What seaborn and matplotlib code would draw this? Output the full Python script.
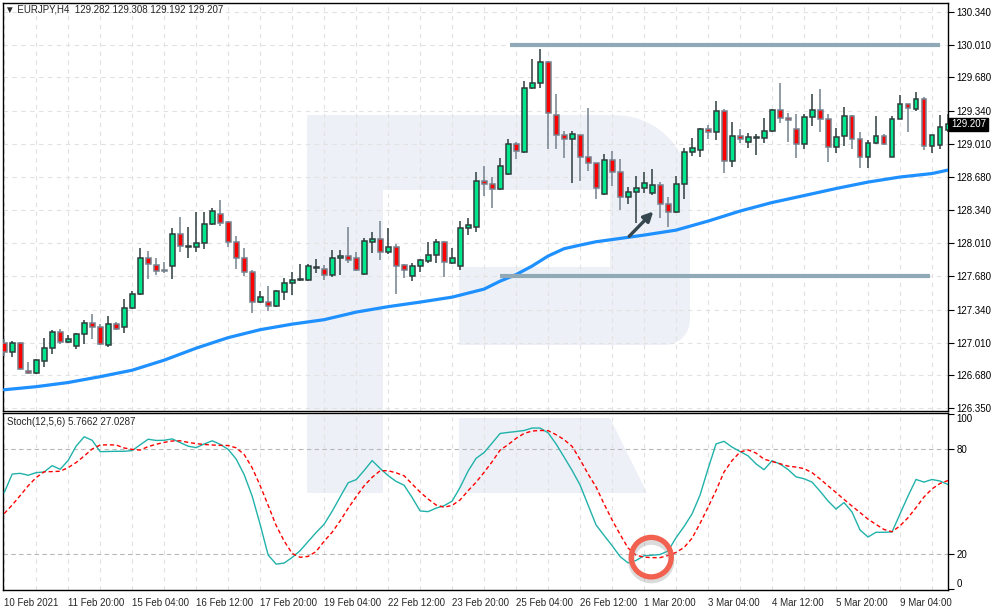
import numpy as np
import pandas as pd
import matplotlib
matplotlib.use("Agg")
import matplotlib.pyplot as plt
import matplotlib.patches as mpatches
import seaborn as sns

# EURJPY H4 bars (bar 0 = 10 Feb 2021)
opens = [127.00, 126.91, 127.01, 126.72, 126.70, 126.82, 126.95, 127.12, 127.02, 126.97,
         127.10, 127.21, 127.17, 126.98, 127.20, 127.17, 127.36, 127.50, 127.86, 127.79,
         127.74, 127.78, 128.10, 127.97, 127.97, 128.01, 128.20, 128.30, 128.22, 128.02,
         127.86, 127.72, 127.42, 127.42, 127.38, 127.52, 127.61, 127.64, 127.64, 127.76,
         127.75, 127.69, 127.86, 127.88, 127.86, 127.70, 128.02, 128.05, 127.92, 127.97,
         127.79, 127.68, 127.78, 127.83, 127.89, 128.02, 127.81, 127.78, 128.16, 128.17,
         128.64, 128.61, 128.56, 128.71, 129.01, 128.93, 129.57, 129.62, 129.84, 129.30,
         129.10, 129.06, 129.10, 128.88, 128.82, 128.51, 128.85, 128.73, 128.48, 128.53,
         128.57, 128.52, 128.60, 128.41, 128.32, 128.61, 128.93, 128.95, 129.16, 129.13,
         129.34, 128.84, 129.09, 129.03, 129.07, 129.07, 129.14, 129.35, 129.27, 129.16,
         129.01, 129.28, 129.35, 129.26, 128.98, 129.09, 129.29, 129.06, 128.88, 129.02,
         129.09, 128.88, 129.26, 129.41, 129.36, 129.46, 128.99, 129.00, 129.15]
highs = [127.05, 127.03, 127.02, 126.81, 126.84, 127.06, 127.14, 127.15, 127.09, 127.11,
         127.24, 127.30, 127.20, 127.28, 127.22, 127.45, 127.53, 127.96, 127.93, 127.86,
         127.82, 128.16, 128.27, 128.17, 128.32, 128.32, 128.36, 128.45, 128.23, 128.08,
         127.96, 127.74, 127.53, 127.58, 127.54, 127.66, 127.72, 127.80, 127.80, 127.85,
         127.79, 127.94, 127.94, 128.17, 127.92, 128.06, 128.12, 128.23, 128.16, 128.00,
         127.80, 127.81, 127.85, 128.02, 128.05, 128.03, 127.96, 128.23, 128.26, 128.73,
         128.79, 128.68, 128.87, 129.06, 129.03, 129.64, 129.87, 129.97, 129.85, 129.51,
         129.14, 129.14, 129.10, 129.37, 128.82, 128.91, 128.94, 128.86, 128.58, 128.69,
         128.73, 128.76, 128.63, 128.48, 128.69, 128.97, 129.07, 129.17, 129.20, 129.44,
         129.36, 129.23, 129.16, 129.12, 129.11, 129.27, 129.36, 129.62, 129.32, 129.31,
         129.31, 129.51, 129.56, 129.31, 129.17, 129.38, 129.30, 129.13, 129.05, 129.29,
         129.11, 129.29, 129.50, 129.41, 129.53, 129.48, 129.10, 129.30, 129.31]
lows = [126.87, 126.86, 126.73, 126.69, 126.69, 126.76, 126.89, 126.99, 127.01, 126.94,
        126.99, 127.05, 126.98, 126.96, 127.14, 127.11, 127.35, 127.49, 127.65, 127.69,
        127.71, 127.65, 127.92, 127.86, 127.92, 127.95, 128.19, 128.18, 127.97, 127.75,
        127.68, 127.31, 127.41, 127.33, 127.37, 127.44, 127.49, 127.63, 127.63, 127.71,
        127.64, 127.67, 127.69, 127.81, 127.73, 127.69, 127.91, 127.84, 127.90, 127.50,
        127.66, 127.63, 127.72, 127.81, 127.81, 127.67, 127.80, 127.74, 128.09, 128.12,
        128.49, 128.36, 128.55, 128.70, 128.86, 128.92, 129.56, 129.57, 128.96, 128.96,
        128.87, 128.62, 128.64, 128.74, 128.46, 128.50, 128.59, 128.34, 128.41, 128.21,
        128.52, 128.50, 128.26, 128.17, 128.31, 128.46, 128.89, 128.88, 129.06, 129.05,
        128.72, 128.78, 129.02, 128.97, 128.90, 129.02, 129.13, 129.22, 129.03, 128.87,
        128.96, 129.19, 129.13, 128.83, 128.92, 128.99, 128.96, 128.77, 128.77, 129.01,
        129.00, 128.88, 129.26, 129.13, 129.34, 128.95, 128.92, 128.96, 129.13]
closes = [126.91, 127.01, 126.74, 126.70, 126.83, 126.95, 127.12, 127.02, 127.05, 127.10,
          127.21, 127.17, 126.99, 127.20, 127.15, 127.36, 127.50, 127.86, 127.80, 127.73,
          127.73, 128.10, 127.98, 127.98, 128.01, 128.20, 128.33, 128.21, 128.02, 127.86,
          127.72, 127.42, 127.47, 127.38, 127.53, 127.61, 127.64, 127.645, 127.78, 127.77,
          127.69, 127.86, 127.88, 127.84, 127.74, 128.03, 128.05, 127.92, 127.97, 127.78,
          127.74, 127.78, 127.84, 127.89, 128.02, 127.82, 127.86, 128.16, 128.19, 128.64,
          128.61, 128.56, 128.79, 129.01, 128.94, 129.57, 129.62, 129.84, 129.32, 129.10,
          129.06, 129.11, 128.88, 128.82, 128.57, 128.85, 128.73, 128.48, 128.53, 128.57,
          128.62, 128.60, 128.41, 128.32, 128.61, 128.93, 128.97, 129.16, 129.13, 129.34,
          128.84, 129.09, 129.06, 129.08, 129.08, 129.14, 129.35, 129.27, 129.25, 129.01,
          129.28, 129.35, 129.26, 128.98, 129.08, 129.29, 129.06, 128.88, 129.02, 129.09,
          129.01, 129.26, 129.41, 129.37, 129.46, 128.99, 129.10, 129.18, 129.21]

# moving average (blue), read at selected bars
ma_bars = [0, 4, 8, 12, 16, 20, 24, 28, 32, 36, 40, 44, 48, 52, 56, 60, 62, 64, 66, 68,
           70, 72, 74, 76, 80, 84, 88, 92, 96, 100, 104, 108, 112, 116, 118]
ma_vals = [126.534, 126.565, 126.607, 126.666, 126.731, 126.832, 126.953, 127.059, 127.139,
           127.195, 127.240, 127.316, 127.371, 127.417, 127.467, 127.548, 127.628, 127.694,
           127.780, 127.881, 127.955, 127.991, 128.025, 128.047, 128.092, 128.142, 128.233,
           128.334, 128.420, 128.490, 128.561, 128.626, 128.677, 128.712, 128.747]

# Stochastic %K (main) and %D (signal)
stoch_k = [55.0, 65.7, 66.1, 65.0, 66.5, 66.9, 70.5, 68.4, 73.5, 81.7,
           87.0, 85.0, 78.5, 78.6, 78.7, 78.7, 79.1, 82.4, 85.6, 84.9,
           85.0, 85.8, 83.7, 81.6, 80.8, 82.9, 84.7, 82.7, 79.8, 74.3,
           65.4, 53.1, 36.9, 19.4, 14.2, 14.8, 18.0, 21.9, 27.1, 32.3,
           37.0, 44.4, 52.6, 60.7, 62.5, 67.7, 73.4, 68.9, 64.8, 61.5,
           59.3, 52.3, 44.6, 44.2, 46.2, 47.6, 50.2, 58.1, 67.4, 74.7,
           78.0, 83.4, 88.9, 89.5, 90.0, 90.6, 92.0, 92.0, 89.3, 82.9,
           75.4, 67.8, 59.4, 48.0, 36.6, 30.6, 24.8, 18.5, 14.9, 16.3,
           19.0, 19.3, 19.7, 21.7, 29.3, 35.7, 42.9, 53.7, 68.7, 82.9,
           84.4, 81.1, 78.6, 76.1, 71.5, 68.2, 73.3, 71.4, 68.3, 64.1,
           63.0, 61.1, 55.9, 50.3, 45.7, 49.4, 44.0, 33.7, 29.7, 32.4,
           32.4, 32.6, 42.9, 53.1, 62.6, 61.1, 62.6, 61.7, 59.7]
stoch_d = [43.1, 48.0, 53.4, 59.0, 63.7, 67.0, 67.1, 67.3, 69.4, 72.3,
           76.0, 80.0, 82.3, 82.4, 82.3, 80.6, 79.8, 79.4, 81.4, 82.7,
           83.8, 84.6, 84.7, 83.8, 83.1, 82.6, 82.3, 82.1, 82.0, 80.7,
           76.9, 69.3, 59.1, 47.8, 36.3, 27.4, 20.3, 18.1, 18.6, 21.4,
           27.3, 32.4, 38.9, 46.1, 52.7, 59.0, 63.8, 67.6, 67.6, 66.4,
           64.7, 60.0, 55.4, 51.4, 48.0, 46.7, 47.8, 50.9, 56.2, 61.0,
           66.7, 72.7, 79.4, 82.5, 86.1, 88.9, 90.3, 90.6, 90.5, 88.2,
           85.4, 81.5, 74.0, 65.7, 58.3, 48.6, 39.5, 31.2, 23.4, 19.3,
           18.2, 17.9, 17.9, 19.1, 20.9, 23.7, 29.0, 37.5, 46.7, 56.3,
           66.9, 73.4, 78.3, 79.5, 77.7, 74.2, 72.9, 71.6, 70.2, 69.7,
           68.8, 66.5, 62.9, 59.0, 55.1, 51.2, 47.4, 43.7, 39.9, 36.9,
           34.0, 32.7, 36.1, 40.7, 46.5, 52.6, 57.2, 60.3, 62.0]

date_labels = ["10 Feb 2021", "11 Feb 20:00", "15 Feb 04:00", "16 Feb 12:00", "17 Feb 20:00",
               "19 Feb 04:00", "22 Feb 12:00", "23 Feb 20:00", "25 Feb 04:00", "26 Feb 12:00",
               "1 Mar 20:00", "3 Mar 04:00", "4 Mar 12:00", "5 Mar 20:00", "9 Mar 04:00"]
price_ticks = [130.340, 130.010, 129.680, 129.340, 129.010, 128.680, 128.340,
               128.010, 127.680, 127.340, 127.010, 126.680, 126.350]
stoch_ticks = [0, 20, 80, 100]

# horizontal levels drawn on the chart: (price, first bar, last bar)
levels = [(130.007, 63.3, 117.0), (127.679, 62.0, 115.8)]

df = pd.DataFrame({"bar": np.arange(len(opens)), "open": opens, "high": highs,
                   "low": lows, "close": closes, "k": stoch_k, "d": stoch_d})
ma_df = pd.DataFrame({"bar": ma_bars, "ma": ma_vals})

sns.set_style("white")
plt.rcParams["font.family"] = ["Liberation Sans", "DejaVu Sans"]
FS = 7

W, H = 994, 610
fig = plt.figure(figsize=(W / 100, H / 100), dpi=100)
ax = fig.add_axes([3 / W, 1 - 411 / H, 945 / W, 408 / H])
ax2 = fig.add_axes([3 / W, 1 - 590 / H, 945 / W, 177 / H], sharex=ax)
for a in (ax, ax2):
    a.set_facecolor("none")


def px(x, y):
    return (x / W, 1 - y / H)


# faint logo watermark behind both panels
wm = "#edf1f7"
ang1 = np.linspace(np.pi / 2, 0, 12)
ang2 = np.linspace(0, -np.pi / 2, 8)
outline = [(307, 115)]
outline += [(615 + 75 * np.cos(t), 190 - 75 * np.sin(t)) for t in ang1]
outline += [(665 + 25 * np.cos(t), 320 - 25 * np.sin(t)) for t in ang2]
outline += [(459, 345), (459, 267), (610, 267), (610, 190), (383, 190), (383, 410), (307, 410)]
fig.add_artist(mpatches.Polygon([px(*p) for p in outline], closed=True, transform=fig.transFigure,
                                facecolor=wm, edgecolor="none", zorder=-1))
fig.add_artist(mpatches.Polygon([px(307, 415), px(383, 415), px(383, 493), px(307, 493)],
                                transform=fig.transFigure, facecolor=wm, edgecolor="none", zorder=-1))
fig.add_artist(mpatches.Polygon([px(459, 418), px(610, 418), px(647, 493), px(459, 493)],
                                transform=fig.transFigure, facecolor=wm, edgecolor="none", zorder=-1))

# grid
grid_kw = dict(color="#e2e2e2", linestyle=(0, (4, 4)), linewidth=0.8)
for a in (ax, ax2):
    a.set_xticks(np.arange(0, 119, 4), minor=True)
    a.grid(which="minor", axis="x", **grid_kw)
    a.grid(which="major", axis="x", **grid_kw)
ax.grid(which="major", axis="y", **grid_kw)

# candles
up = df["close"] >= df["open"]
edge = np.where(up, "#2e3d3d", "#74818d")
face = np.where(up, "#00e68c", "#ff0000")
body_low = np.minimum(df["open"], df["close"])
body_h = np.maximum((df["close"] - df["open"]).abs(), 0.006)
ax.vlines(df["bar"], df["low"], df["high"], colors=edge, linewidth=1.1, zorder=3)
ax.bar(df["bar"], body_h, bottom=body_low, width=0.62, color=face, edgecolor=edge,
       linewidth=1.1, zorder=4)

sns.lineplot(data=ma_df, x="bar", y="ma", ax=ax, color="#1e90ff", linewidth=2.3, zorder=5)

for price, b0, b1 in levels:
    ax.hlines(price, b0, b1, color="#90a9b7", linewidth=3, zorder=6)

ax.annotate("", xy=(81.4, 128.35), xytext=(77.9, 128.06),
            arrowprops=dict(arrowstyle="-|>", color="#37474f", lw=2.4, mutation_scale=14),
            zorder=7)

# stochastic
ax2.axhline(80, color="#b8b8b8", linestyle=(0, (4, 3)), linewidth=0.8)
ax2.axhline(20, color="#b8b8b8", linestyle=(0, (4, 3)), linewidth=0.8)
sns.lineplot(data=df, x="bar", y="k", ax=ax2, color="#20b2aa", linewidth=1.0, zorder=4)
sns.lineplot(data=df, x="bar", y="d", ax=ax2, color="#ff0000", linewidth=1.0,
             linestyle=(0, (3, 2)), zorder=4)
ax2.add_patch(mpatches.Ellipse((80.9, 16.0), 5.0, 22.0, fill=False, edgecolor="#9a9a9a",
                               linewidth=4.5, alpha=0.35, zorder=5))
ax2.add_patch(mpatches.Ellipse((80.9, 18.2), 5.0, 22.6, fill=False, edgecolor="#f2604f",
                               linewidth=3.8, zorder=6))

# axes
ax.set_xlim(-0.15, 118.0)
ax.set_ylim(126.32, 130.43)
ax2.set_ylim(-0.6, 100.6)
for a in (ax, ax2):
    a.set_xlabel("")
    a.set_ylabel("")
    a.yaxis.tick_right()
    for s in a.spines.values():
        s.set_color("black")
        s.set_linewidth(1)
    a.tick_params(axis="y", which="major", direction="out", length=4, width=0.8,
                  labelsize=FS, pad=2, colors="black")

ax.set_yticks(price_ticks)
ax.set_yticklabels([f"{p:.3f}" for p in price_ticks])
ax.tick_params(axis="x", which="both", length=0, labelbottom=False)

ax2.set_yticks(stoch_ticks)
ax2.set_yticklabels([str(v) for v in stoch_ticks])
for lbl in ax2.get_yticklabels():
    if lbl.get_text() == "100":
        lbl.set_va("top")
    elif lbl.get_text() == "0":
        lbl.set_va("bottom")

ax2.set_xticks(np.arange(0, 113, 8))
ax2.set_xticklabels(date_labels, ha="left")
ax2.tick_params(axis="x", which="major", direction="out", length=4, width=0.8,
                labelsize=FS, pad=2)
ax2.tick_params(axis="x", which="minor", length=0)

# texts
fig.text(5 / W, 1 - 10 / H, "\u25bc EURJPY,H4  129.282 129.308 129.192 129.207",
         fontsize=FS, va="center", ha="left")
fig.text(7 / W, 1 - 422 / H, "Stoch(12,5,6) 5.7662 27.0287", fontsize=FS,
         va="center", ha="left")
ax.text(1.003, 129.207, "129.207", transform=ax.get_yaxis_transform(), fontsize=FS,
        color="white", va="center", ha="left", zorder=10,
        bbox=dict(boxstyle="square,pad=0.18", facecolor="black", edgecolor="black"))

fig.savefig("out.png", dpi=100)
plt.close(fig)
